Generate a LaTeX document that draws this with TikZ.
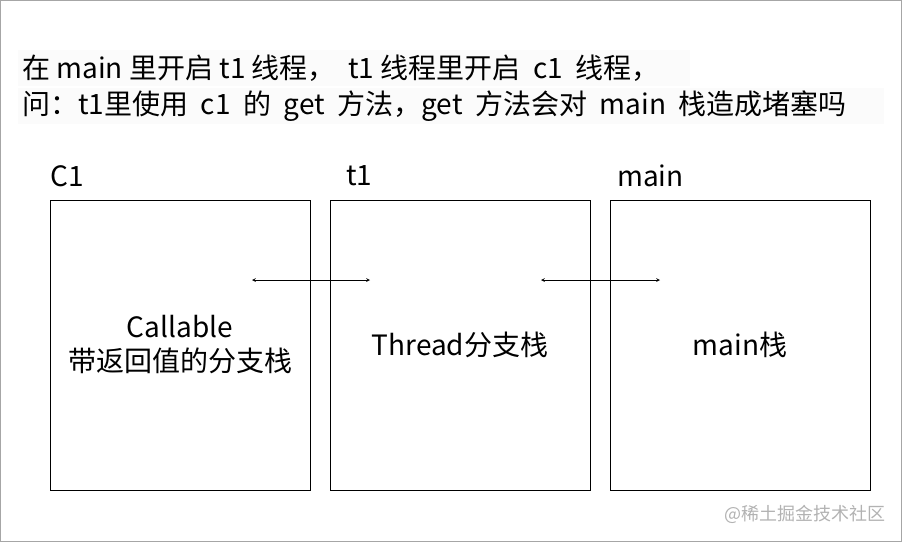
\documentclass[tikz,border=0pt]{standalone}
\usepackage{fontspec}
\setmainfont{Noto Sans CJK SC}
\begin{document}
\begin{tikzpicture}[x=1pt,y=-1pt,
  box/.style={draw,line width=0.8pt},
  lbl/.style={font=\fontsize{28}{34}\selectfont,inner sep=0pt},
  link/.style={<->,>=stealth,line width=0.7pt}]
\useasboundingbox (0,0) rectangle (902,542);
\draw[gray!70,line width=0.8pt] (0.5,0.5) rectangle (901.5,541.5);
\fill[gray!3] (18,50) rectangle (690,86);
\fill[gray!3] (18,88) rectangle (884,124);
\node[lbl,anchor=west] (q1) at (22,68) {在 main 里开启 t1 线程，\ \ t1 线程里开启\ \ c1\ \ 线程，};
\node[lbl,anchor=west] (q2) at (22,106) {问：t1里使用\ \ c1\ \ 的\ \ get\ \ 方法，get\ \ 方法会对\ \ main\ \ 栈造成堵塞吗};
\node[lbl,anchor=west] (lc) at (50,176) {C1};
\node[lbl,anchor=west] (lt) at (346,176) {t1};
\node[lbl,anchor=west] (lm) at (617,176) {main};
\node[box,minimum width=260pt,minimum height=290pt,anchor=north west] (c1) at (50,200) {};
\node[box,minimum width=260pt,minimum height=290pt,anchor=north west] (t1) at (330,200) {};
\node[box,minimum width=260pt,minimum height=290pt,anchor=north west] (mn) at (610,200) {};
\node[lbl,align=center,font=\fontsize{28}{34}\selectfont] (tc) at (180,345) {Callable\\带返回值的分支栈};
\node[lbl] (tt) at (460,345) {Thread分支栈};
\node[lbl] (tm) at (740,345) {main栈};
\coordinate (a1) at (252,280); \coordinate (a2) at (370,280);
\coordinate (b1) at (541,280); \coordinate (b2) at (660,280);
\draw[link] (a1) -- (a2);
\draw[link] (b1) -- (b2);
\node[anchor=east,text=gray!60,font=\fontsize{18}{20}\selectfont,inner sep=0pt] (wm) at (886,514) {@稀土掘金技术社区};
\end{tikzpicture}
\end{document}
